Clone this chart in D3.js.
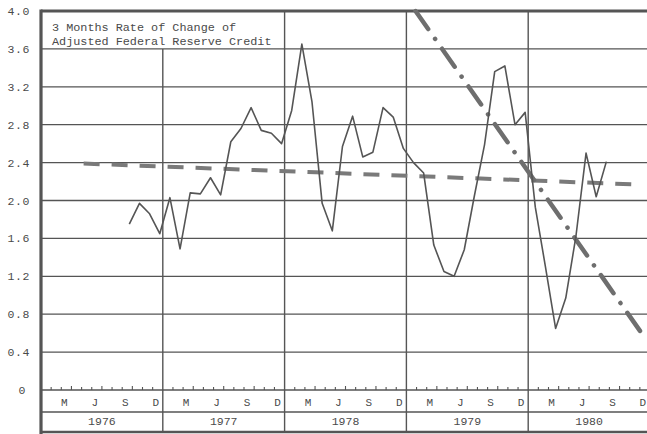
<!DOCTYPE html>
<html>
<head>
<meta charset="utf-8">
<script src="https://cdn.jsdelivr.net/npm/d3@7"></script>
<style>
  body { margin: 0; background: #fff; }
  svg { display: block; }
  text { font-family: "Liberation Mono", "DejaVu Sans Mono", monospace; fill: #4a4a4a; }
</style>
</head>
<body>
<script>
// 月次データ（1976年9月〜1980年8月）
const months = [
  "1976-09", "1976-10", "1976-11", "1976-12",
  "1977-01", "1977-02", "1977-03", "1977-04", "1977-05", "1977-06",
  "1977-07", "1977-08", "1977-09", "1977-10", "1977-11", "1977-12",
  "1978-01", "1978-02", "1978-03", "1978-04", "1978-05", "1978-06",
  "1978-07", "1978-08", "1978-09", "1978-10", "1978-11", "1978-12",
  "1979-01", "1979-02", "1979-03", "1979-04", "1979-05", "1979-06",
  "1979-07", "1979-08", "1979-09", "1979-10", "1979-11", "1979-12",
  "1980-01", "1980-02", "1980-03", "1980-04", "1980-05", "1980-06",
  "1980-07", "1980-08"
];
const rate = [
  1.75, 1.97, 1.86, 1.65,
  2.03, 1.49, 2.08, 2.07, 2.24, 2.06, 2.62, 2.76, 2.98, 2.74, 2.71, 2.60,
  2.95, 3.65, 3.04, 1.97, 1.68, 2.57, 2.89, 2.46, 2.51, 2.98, 2.88, 2.55,
  2.40, 2.29, 1.53, 1.25, 1.20, 1.48, 2.05, 2.59, 3.36, 3.42, 2.80, 2.93,
  1.93, 1.30, 0.65, 0.97, 1.62, 2.50, 2.04, 2.41
];

// トレンド線（1976年1月からの月数, 値）
const longTrend = [[4.2, 2.39], [58.5, 2.17]];
const shortTrend = [[36.9, 4.0], [59.3, 0.58]];

const years = [1976, 1977, 1978, 1979, 1980];
const monthLabels = [["M", 2], ["J", 5], ["S", 8], ["D", 11]];
const yTicks = [0, 0.4, 0.8, 1.2, 1.6, 2.0, 2.4, 2.8, 3.2, 3.6, 4.0];
const titleLines = ["3 Months Rate of Change of", "Adjusted Federal Reserve Credit"];

const width = 647, height = 434;
const plotLeft = 41, plotRight = 650, plotTop = 11, zeroY = 390, monthRowY = 412, plotBottom = 432;
const ink = "#555";

const svg = d3.select("body").append("svg")
  .attr("width", width)
  .attr("height", height);

// 月インデックス（1976年1月 = 0）
const toIndex = s => {
  const [yr, m] = s.split("-").map(Number);
  return (yr - 1976) * 12 + (m - 1);
};

const x = d3.scaleLinear().domain([0, 60]).range([plotLeft, plotRight]);
const y = d3.scaleLinear().domain([0, 4]).range([zeroY, plotTop]);

// 横のグリッド線
svg.append("g")
  .selectAll("line")
  .data(yTicks.filter(d => d > 0 && d < 4))
  .join("line")
  .attr("x1", plotLeft).attr("x2", width)
  .attr("y1", d => y(d)).attr("y2", d => y(d))
  .attr("stroke", ink).attr("stroke-width", 1.3);

// 0線と月ラベル行の区切り
[zeroY, monthRowY].forEach(v => {
  svg.append("line")
    .attr("x1", plotLeft).attr("x2", width)
    .attr("y1", v).attr("y2", v)
    .attr("stroke", ink).attr("stroke-width", 1.4);
});

// 年の区切り線（1977年の線はタイトル枠の下から）
svg.append("g")
  .selectAll("line")
  .data(years.slice(1))
  .join("line")
  .attr("x1", d => x((d - 1976) * 12)).attr("x2", d => x((d - 1976) * 12))
  .attr("y1", d => d === 1977 ? y(3.6) : plotTop)
  .attr("y2", plotBottom)
  .attr("stroke", ink).attr("stroke-width", 1.4);

// 月の目盛り
svg.append("g")
  .selectAll("line")
  .data(d3.range(1, 60).filter(i => i % 12 !== 0))
  .join("line")
  .attr("x1", d => x(d)).attr("x2", d => x(d))
  .attr("y1", zeroY).attr("y2", d => zeroY - (d % 3 === 0 ? 4 : 3))
  .attr("stroke", ink).attr("stroke-width", 1.1);

// 外枠
svg.append("line")
  .attr("x1", plotLeft).attr("x2", plotLeft).attr("y1", plotTop - 1.5).attr("y2", height)
  .attr("stroke", ink).attr("stroke-width", 3.2);
svg.append("line")
  .attr("x1", plotLeft).attr("x2", width).attr("y1", plotTop).attr("y2", plotTop)
  .attr("stroke", ink).attr("stroke-width", 3);
svg.append("line")
  .attr("x1", plotLeft).attr("x2", width).attr("y1", plotBottom).attr("y2", plotBottom)
  .attr("stroke", ink).attr("stroke-width", 2.6);

// Y軸ラベル
svg.append("g")
  .selectAll("text")
  .data(yTicks)
  .join("text")
  .attr("x", d => d === 0 ? 26 : 30)
  .attr("y", d => y(d))
  .attr("dy", "0.35em")
  .attr("text-anchor", "end")
  .attr("font-size", 11.5)
  .attr("letter-spacing", 0.6)
  .text(d => d === 0 ? "0" : d3.format(".1f")(d));

// 月ラベル
svg.append("g")
  .selectAll("text")
  .data(years.flatMap(yr => monthLabels.map(([lab, m]) => ({ lab, i: (yr - 1976) * 12 + m + 0.3 }))))
  .join("text")
  .attr("x", d => x(d.i))
  .attr("y", 402)
  .attr("dy", "0.35em")
  .attr("text-anchor", "middle")
  .attr("font-size", 11)
  .text(d => d.lab);

// 年ラベル
svg.append("g")
  .selectAll("text")
  .data(years)
  .join("text")
  .attr("x", d => x((d - 1976) * 12 + 6))
  .attr("y", 421)
  .attr("dy", "0.35em")
  .attr("text-anchor", "middle")
  .attr("font-size", 11.5)
  .text(d => d);

// タイトル
svg.append("g")
  .selectAll("text")
  .data(titleLines)
  .join("text")
  .attr("x", 52)
  .attr("y", (d, i) => 27 + i * 14)
  .attr("dy", "0.35em")
  .attr("font-size", 11.8)
  .text(d => d);

// トレンド線
const trendLine = d3.line().x(d => x(d[0])).y(d => y(d[1]));

svg.append("path")
  .datum(longTrend)
  .attr("d", trendLine)
  .attr("fill", "none")
  .attr("stroke", "#7a7a7a")
  .attr("stroke-width", 4)
  .attr("stroke-dasharray", "16,12");

svg.append("path")
  .datum(shortTrend)
  .attr("d", trendLine)
  .attr("fill", "none")
  .attr("stroke", "#6e6e6e")
  .attr("stroke-width", 4.5)
  .attr("stroke-linecap", "round")
  .attr("stroke-dasharray", "22,12,0.1,12");

// データ線（各月の点は月の後半に置く）
const series = months.map((m, i) => [toIndex(m) + 0.7, rate[i]]);

svg.append("path")
  .datum(series)
  .attr("d", trendLine)
  .attr("fill", "none")
  .attr("stroke", ink)
  .attr("stroke-width", 1.6)
  .attr("stroke-linejoin", "round");
</script>
</body>
</html>
